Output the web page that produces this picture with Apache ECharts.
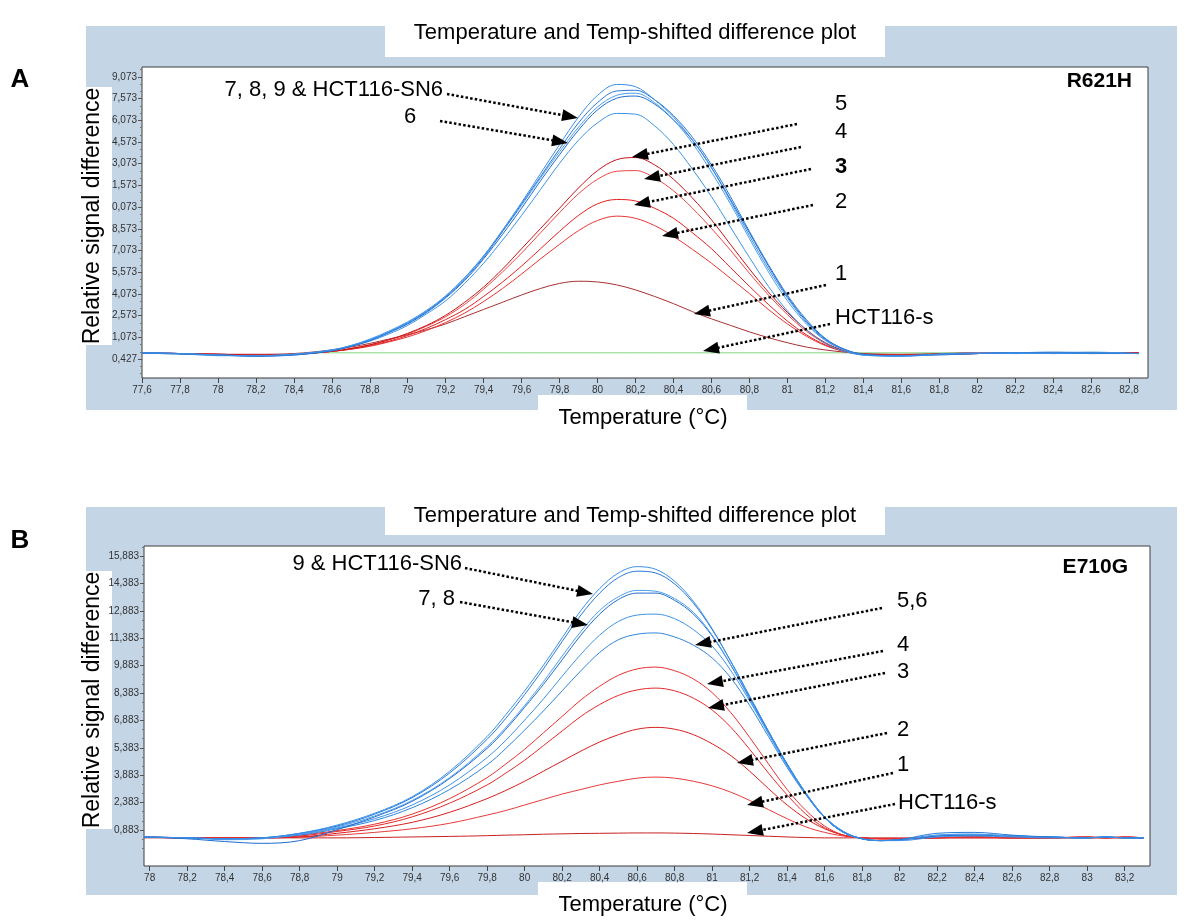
<!DOCTYPE html>
<html><head><meta charset="utf-8">
<script src="https://cdn.jsdelivr.net/npm/echarts@6/dist/echarts.min.js"></script>
<style>html,body{margin:0;padding:0;background:#fff}#c{width:1200px;height:924px}</style>
</head><body><div id="c"></div>
<script>
// ---------- Panel A (R621H) ----------
const TOP_T = [77.6, 77.8, 78.0, 78.2, 78.4, 78.6, 78.7, 78.8, 78.9, 79.0, 79.1, 79.2, 79.3, 79.4, 79.5, 79.6, 79.7, 79.8, 79.9, 80.0, 80.1, 80.2, 80.3, 80.4, 80.5, 80.6, 80.7, 80.8, 80.9, 81.0, 81.1, 81.2, 81.3, 81.4, 81.6, 81.8, 82.0, 82.2, 82.4, 82.6, 82.85];
const TOP_B1 = [0.0, -0.05, -0.15, -0.2, -0.1, 0.2, 0.5, 0.9, 1.45, 2.1, 2.9, 3.9, 5.2, 6.7, 8.5, 10.4, 12.4, 14.4, 16.3, 17.8, 18.55, 18.4, 17.5, 16.3, 14.7, 12.8, 10.5, 8.1, 5.8, 3.8, 2.1, 0.9, 0.2, -0.15, -0.2, -0.1, -0.05, 0.0, -0.05, 0.0, -0.05];
const TOP_B2 = [0.0, -0.05, -0.15, -0.25, -0.15, 0.15, 0.45, 0.85, 1.4, 2.05, 2.85, 3.85, 5.1, 6.6, 8.4, 10.3, 12.2, 14.1, 15.9, 17.3, 18.1, 18.15, 17.5, 16.4, 14.9, 13.0, 10.8, 8.4, 6.1, 4.0, 2.3, 1.0, 0.25, -0.1, -0.2, -0.1, -0.05, 0.0, 0.05, 0.0, -0.05];
const TOP_B3 = [0.0, -0.05, -0.2, -0.2, -0.1, 0.2, 0.5, 0.95, 1.5, 2.15, 2.95, 3.95, 5.2, 6.7, 8.4, 10.2, 12.1, 13.9, 15.6, 17.0, 17.8, 17.95, 17.3, 16.1, 14.5, 12.5, 10.3, 7.9, 5.6, 3.6, 2.0, 0.85, 0.2, -0.15, -0.25, -0.1, 0.0, -0.05, 0.0, 0.05, -0.05];
const TOP_B4 = [0.0, -0.1, -0.15, -0.2, -0.15, 0.15, 0.45, 0.85, 1.4, 2.0, 2.8, 3.8, 5.0, 6.5, 8.2, 10.0, 11.9, 13.7, 15.4, 16.8, 17.6, 17.75, 17.2, 16.1, 14.7, 12.8, 10.6, 8.3, 6.0, 3.9, 2.2, 0.95, 0.25, -0.1, -0.2, -0.15, -0.05, 0.0, -0.05, 0.0, -0.05];
const TOP_B5 = [0.0, -0.05, -0.15, -0.2, -0.1, 0.15, 0.45, 0.8, 1.3, 1.9, 2.7, 3.6, 4.8, 6.2, 7.8, 9.5, 11.3, 13.1, 14.7, 15.9, 16.55, 16.5, 15.7, 14.4, 12.7, 10.8, 8.7, 6.6, 4.6, 2.9, 1.6, 0.65, 0.1, -0.15, -0.2, -0.1, -0.05, 0.0, 0.0, -0.05, -0.05];
const TOP_R5 = [0.0, -0.05, -0.1, -0.15, -0.1, 0.1, 0.3, 0.55, 0.9, 1.35, 1.9, 2.6, 3.5, 4.55, 5.8, 7.2, 8.6, 10.0, 11.4, 12.6, 13.35, 13.5, 13.0, 12.0, 10.7, 9.2, 7.5, 5.8, 4.2, 2.8, 1.6, 0.7, 0.15, -0.1, -0.15, -0.1, -0.05, 0.0, -0.05, 0.0, 0.0];
const TOP_R4 = [0.0, -0.05, -0.1, -0.15, -0.1, 0.1, 0.3, 0.55, 0.9, 1.3, 1.85, 2.5, 3.35, 4.4, 5.6, 6.9, 8.3, 9.7, 11.0, 12.0, 12.55, 12.6, 12.1, 11.2, 10.0, 8.6, 7.1, 5.5, 4.0, 2.65, 1.5, 0.65, 0.12, -0.1, -0.15, -0.1, -0.05, 0.0, 0.0, -0.05, 0.0];
const TOP_R3 = [0.0, -0.05, -0.1, -0.15, -0.1, 0.1, 0.25, 0.5, 0.8, 1.2, 1.7, 2.3, 3.0, 3.9, 4.9, 6.0, 7.2, 8.4, 9.5, 10.3, 10.6, 10.5, 10.0, 9.3, 8.3, 7.2, 5.9, 4.6, 3.35, 2.2, 1.25, 0.55, 0.1, -0.1, -0.15, -0.1, 0.0, -0.05, 0.0, 0.0, -0.05];
const TOP_R2 = [0.0, -0.05, -0.1, -0.15, -0.1, 0.1, 0.25, 0.45, 0.75, 1.1, 1.55, 2.1, 2.75, 3.55, 4.45, 5.45, 6.5, 7.5, 8.45, 9.15, 9.45, 9.3, 8.8, 8.05, 7.15, 6.2, 5.15, 4.1, 3.0, 2.0, 1.15, 0.5, 0.1, -0.1, -0.15, -0.1, -0.05, 0.0, 0.0, -0.05, 0.0];
const TOP_R1 = [0.0, -0.05, -0.1, -0.1, -0.05, 0.2, 0.4, 0.65, 0.95, 1.25, 1.6, 2.0, 2.5, 3.0, 3.5, 4.0, 4.45, 4.8, 4.95, 4.9, 4.7, 4.35, 3.9, 3.4, 2.85, 2.35, 1.9, 1.45, 1.05, 0.7, 0.4, 0.2, 0.05, -0.05, -0.1, -0.05, 0.0, 0.0, 0.0, 0.0, 0.0];
const TOP_GREEN_T = [78.5, 82.85];
const TOP_GREEN_V = [0.0, 0.0];
const TOP_X_LABELS = ['77,6','77,8','78','78,2','78,4','78,6','78,8','79','79,2','79,4','79,6','79,8','80','80,2','80,4','80,6','80,8','81','81,2','81,4','81,6','81,8','82','82,2','82,4','82,6','82,8'];
const TOP_Y_TICKS = [-0.427, 1.073, 2.573, 4.073, 5.573, 7.073, 8.573, 10.073, 11.573, 13.073, 14.573, 16.073, 17.573, 19.073];
const TOP_Y_LABELS = ['0,427','1,073','2,573','4,073','5,573','7,073','8,573','0,073','1,573','3,073','4,573','6,073','7,573','9,073'];

// ---------- Panel B (E710G) ----------
const BOT_T = [77.97, 78.2, 78.4, 78.6, 78.8, 79.0, 79.2, 79.4, 79.6, 79.8, 79.9, 80.0, 80.1, 80.2, 80.3, 80.4, 80.5, 80.6, 80.7, 80.8, 80.9, 81.0, 81.1, 81.2, 81.3, 81.4, 81.5, 81.6, 81.7, 81.8, 81.9, 82.0, 82.2, 82.4, 82.6, 82.8, 83.0, 83.1, 83.2, 83.3];
const BOT_B1 = [0.5, 0.45, 0.4, 0.45, 0.7, 1.15, 1.8, 2.7, 4.1, 6.0, 7.2, 8.5, 9.9, 11.4, 12.9, 14.1, 14.95, 15.3, 15.15, 14.5, 13.4, 11.9, 10.1, 8.2, 6.3, 4.5, 2.9, 1.6, 0.8, 0.4, 0.3, 0.3, 0.5, 0.55, 0.5, 0.45, 0.45, 0.5, 0.45, 0.45];
const BOT_B2 = [0.5, 0.45, 0.4, 0.45, 0.7, 1.1, 1.75, 2.65, 4.0, 5.85, 7.0, 8.3, 9.7, 11.2, 12.65, 13.85, 14.7, 15.05, 14.95, 14.35, 13.3, 11.85, 10.1, 8.2, 6.3, 4.5, 2.9, 1.6, 0.8, 0.4, 0.3, 0.35, 0.7, 0.75, 0.6, 0.5, 0.45, 0.5, 0.45, 0.45];
const BOT_B3 = [0.5, 0.45, 0.35, 0.4, 0.65, 1.05, 1.65, 2.5, 3.75, 5.45, 6.5, 7.7, 9.0, 10.4, 11.75, 12.9, 13.65, 14.0, 13.95, 13.55, 12.8, 11.55, 9.9, 8.05, 6.2, 4.4, 2.85, 1.55, 0.75, 0.4, 0.3, 0.35, 0.6, 0.65, 0.55, 0.5, 0.45, 0.5, 0.45, 0.45];
const BOT_B4 = [0.5, 0.4, 0.25, 0.15, 0.3, 0.9, 1.6, 2.45, 3.7, 5.35, 6.4, 7.6, 8.85, 10.2, 11.55, 12.7, 13.5, 13.85, 13.85, 13.45, 12.7, 11.5, 9.9, 8.1, 6.25, 4.45, 2.85, 1.55, 0.75, 0.4, 0.3, 0.35, 0.55, 0.6, 0.55, 0.5, 0.45, 0.5, 0.45, 0.45];
const BOT_B5 = [0.5, 0.45, 0.4, 0.45, 0.65, 1.0, 1.5, 2.25, 3.35, 4.85, 5.8, 6.9, 8.05, 9.3, 10.5, 11.55, 12.3, 12.65, 12.7, 12.45, 11.85, 10.95, 9.6, 7.95, 6.15, 4.4, 2.85, 1.55, 0.75, 0.4, 0.3, 0.35, 0.6, 0.65, 0.55, 0.5, 0.45, 0.5, 0.45, 0.45];
const BOT_B6 = [0.5, 0.45, 0.4, 0.45, 0.6, 0.95, 1.4, 2.1, 3.1, 4.45, 5.35, 6.35, 7.4, 8.5, 9.6, 10.6, 11.3, 11.6, 11.67, 11.45, 11.0, 10.3, 9.2, 7.7, 6.0, 4.3, 2.8, 1.55, 0.75, 0.4, 0.3, 0.35, 0.55, 0.6, 0.55, 0.5, 0.45, 0.5, 0.45, 0.45];
const BOT_R4 = [0.5, 0.45, 0.45, 0.45, 0.6, 0.85, 1.2, 1.75, 2.6, 3.75, 4.5, 5.3, 6.2, 7.1, 8.0, 8.75, 9.35, 9.7, 9.8, 9.6, 9.15, 8.4, 7.3, 5.95, 4.5, 3.1, 1.95, 1.1, 0.6, 0.45, 0.4, 0.4, 0.45, 0.5, 0.45, 0.45, 0.5, 0.45, 0.5, 0.45];
const BOT_R3 = [0.5, 0.45, 0.45, 0.45, 0.55, 0.8, 1.1, 1.6, 2.35, 3.35, 4.0, 4.7, 5.5, 6.3, 7.1, 7.75, 8.25, 8.55, 8.65, 8.5, 8.1, 7.45, 6.5, 5.3, 4.0, 2.8, 1.75, 1.0, 0.6, 0.45, 0.4, 0.4, 0.45, 0.5, 0.45, 0.45, 0.5, 0.45, 0.5, 0.45];
const BOT_R2 = [0.5, 0.45, 0.45, 0.45, 0.5, 0.7, 0.95, 1.3, 1.85, 2.6, 3.05, 3.55, 4.1, 4.65, 5.2, 5.7, 6.1, 6.4, 6.5, 6.4, 6.1, 5.6, 4.95, 4.1, 3.15, 2.25, 1.5, 0.95, 0.6, 0.45, 0.4, 0.4, 0.45, 0.5, 0.45, 0.45, 0.5, 0.45, 0.5, 0.45];
const BOT_R1 = [0.5, 0.45, 0.45, 0.45, 0.5, 0.6, 0.75, 0.95, 1.25, 1.7, 1.95, 2.25, 2.55, 2.85, 3.1, 3.35, 3.55, 3.72, 3.78, 3.72, 3.55, 3.3, 2.95, 2.5, 2.0, 1.5, 1.05, 0.75, 0.55, 0.45, 0.4, 0.4, 0.45, 0.45, 0.45, 0.45, 0.45, 0.45, 0.45, 0.45];
const BOT_HCT = [0.45, 0.45, 0.45, 0.45, 0.45, 0.45, 0.47, 0.5, 0.53, 0.57, 0.6, 0.62, 0.65, 0.67, 0.69, 0.7, 0.71, 0.72, 0.72, 0.71, 0.69, 0.66, 0.62, 0.58, 0.54, 0.5, 0.47, 0.45, 0.45, 0.45, 0.45, 0.45, 0.45, 0.45, 0.45, 0.45, 0.45, 0.45, 0.45, 0.45];
const BOT_X_LABELS = ['78','78,2','78,4','78,6','78,8','79','79,2','79,4','79,6','79,8','80','80,2','80,4','80,6','80,8','81','81,2','81,4','81,6','81,8','82','82,2','82,4','82,6','82,8','83','83,2'];
const BOT_Y_TICKS = [0.883, 2.383, 3.883, 5.383, 6.883, 8.383, 9.883, 11.383, 12.883, 14.383, 15.883];
const BOT_Y_LABELS = ['0,883','2,383','3,883','5,383','6,883','8,383','9,883','11,383','12,883','14,383','15,883'];

// ---------- annotations ----------
const TOP_NOTES = [
  ['7, 8, 9 & HCT116-SN6', 443, 90, 'right', false],
  ['6', 410, 117, 'center', false],
  ['5', 835, 104, 'left', false],
  ['4', 835, 132, 'left', false],
  ['3', 835, 167, 'left', true],
  ['2', 835, 202, 'left', false],
  ['1', 835, 274, 'left', false],
  ['HCT116-s', 835, 318, 'left', false]
];
const TOP_ARROWS = [[447,94,578,118],[440,121,568,143],[797,124,632,157],[801,147,644,179],[811,169,634,205],[813,205,662,236],[826,285,694,314],[830,324,703,351]];
const BOT_NOTES = [
  ['9 & HCT116-SN6', 462, 564, 'right', false],
  ['7, 8', 455, 599, 'right', false],
  ['5,6', 897, 601, 'left', false],
  ['4', 897, 645, 'left', false],
  ['3', 897, 672, 'left', false],
  ['2', 897, 730, 'left', false],
  ['1', 897, 765, 'left', false],
  ['HCT116-s', 898, 803, 'left', false]
];
const BOT_ARROWS = [[465,568,593,594],[460,602,588,625],[882,608,695,645],[883,651,707,684],[885,673,708,708],[887,733,737,763],[893,773,747,805],[895,804,747,833]];

const FONT = "'Liberation Sans', Arial, Helvetica, sans-serif";
const FRAME = '#c4d5e6';

function pairs(xs, ys){ return xs.map((x,i)=>[x, ys[i]]); }
function lbl(ticks, labels){ return v => { const i = ticks.findIndex(t => Math.abs(t - v) < 1e-6); return i >= 0 ? labels[i] : ''; }; }
function minors(ticks, lo, hi){ const m=[]; ticks.forEach(t=>{ [-1,-0.5,0.5,1].forEach(d=>{const v=+(t+d).toFixed(3); if(v>lo && v<hi && !m.some(q=>Math.abs(q-v)<1e-6)) m.push(v);}); }); return m; }
function parseLbl(a){ return a.map(s=>parseFloat(s.replace(',','.'))); }

function xAxisCfg(gi, min, max, labels){
  const vals = parseLbl(labels);
  return { gridIndex: gi, type:'value', min, max, position:'bottom',
    axisLine:{show:false, onZero:false}, splitLine:{show:false},
    axisTick:{show:true, inside:false, customValues: vals, length:5, lineStyle:{color:'#444', width:1}},
    axisLabel:{customValues: vals, formatter: lbl(vals, labels), fontSize:10, color:'#333', margin:7, fontFamily: FONT} };
}
function yAxisCfg(gi, min, max, ticks, labels){
  return [{ gridIndex: gi, type:'value', min, max, position:'left',
    axisLine:{show:false, onZero:false}, splitLine:{show:false},
    axisTick:{show:true, customValues: ticks, length:4, lineStyle:{color:'#555', width:1}},
    axisLabel:{customValues: ticks, formatter: lbl(ticks, labels), fontSize:10, color:'#333', margin:5, fontFamily: FONT} },
   { gridIndex: gi, type:'value', min, max, position:'left', offset:0,
    axisLine:{show:false, onZero:false}, splitLine:{show:false},
    axisTick:{show:true, customValues: minors(ticks, min, max), length:2, lineStyle:{color:'#777', width:1}},
    axisLabel:{show:false} }];
}
function line(name, xs, ys, color, xi, yi, z){
  return { name, type:'line', xAxisIndex:xi, yAxisIndex:yi, data: pairs(xs, ys), showSymbol:false, symbol:'none',
    smooth:0.35, silent:true, animation:false, z: z||2, lineStyle:{width:1, color} };
}
function arrowData(arr){
  return arr.map(a => { const dx=a[2]-a[0], dy=a[3]-a[1], L=Math.hypot(dx,dy), k=(L-8)/L;
    return [{x:a[0], y:a[1]}, {x:a[0]+dx*k, y:a[1]+dy*k}]; });
}
function markArrows(arr){
  return { silent:true, animation:false, symbol:['none','triangle'], symbolSize:[12,16], label:{show:false},
    lineStyle:{color:'#000', width:2.5, type:[2.5,2.2], opacity:1}, emphasis:{disabled:true}, data: arrowData(arr) };
}
function text(t, x, y, font, align, rot){
  return { type:'text', x, y, z:100, rotation: rot||0,
    style:{ text:t, font, fill:'#000', textAlign: align||'left', textVerticalAlign:'middle', align: align||'left', verticalAlign:'middle' } };
}
function rect(x,y,w,h,fill,z){ return { type:'rect', z, shape:{x,y,width:w,height:h}, style:{fill}, silent:true }; }

const g = [];
// frames
g.push(rect(86,26,1091,384,FRAME,-20), rect(385,10,500,47,'#fff',-19), rect(538,395,209,40,'#fff',-19), rect(78,87,34,258,'#fff',-19));
g.push(rect(86,507,1091,388,FRAME,-20), rect(385,495,500,40,'#fff',-19), rect(538,882,209,30,'#fff',-19), rect(78,571,34,258,'#fff',-19));
// titles
const T22 = '22px ' + FONT;
g.push(text('Temperature and Temp-shifted difference plot', 635, 33, T22, 'center'));
g.push(text('Temperature and Temp-shifted difference plot', 635, 516, T22, 'center'));
g.push(text('Temperature (°C)', 643, 418, T22, 'center'));
g.push(text('Temperature (°C)', 643, 905, T22, 'center'));
g.push(text('Relative signal difference', 93, 216, '23px ' + FONT, 'center', Math.PI/2));
g.push(text('Relative signal difference', 93, 700, '23px ' + FONT, 'center', Math.PI/2));
g.push(text('A', 20, 80, 'bold 26px ' + FONT, 'center'));
g.push(text('B', 20, 541, 'bold 26px ' + FONT, 'center'));
g.push(text('R621H', 1132, 81, 'bold 21px ' + FONT, 'right'));
g.push(text('E710G', 1128, 567, 'bold 21px ' + FONT, 'right'));
TOP_NOTES.concat(BOT_NOTES).forEach(n => g.push(text(n[0], n[1], n[2], (n[4]?'bold ':'') + T22, n[3])));

const BLUE = ['#3a8fe8','#2878d6','#4a9ef0','#1f6ccc','#3d93e6','#2f84de'];
const series = [
  Object.assign(line('HCT116-s A', TOP_GREEN_T, TOP_GREEN_V, '#7fd67f', 0, 0, 1), {markLine: markArrows(TOP_ARROWS)}),
  line('1 A', TOP_T, TOP_R1, '#a83030', 0, 0),
  line('2 A', TOP_T, TOP_R2, '#e83434', 0, 0),
  line('3 A', TOP_T, TOP_R3, '#e52020', 0, 0),
  line('4 A', TOP_T, TOP_R4, '#f04545', 0, 0),
  line('5 A', TOP_T, TOP_R5, '#c81218', 0, 0),
  line('6 A', TOP_T, TOP_B5, BLUE[4], 0, 0, 3),
  line('7 A', TOP_T, TOP_B4, BLUE[3], 0, 0, 3),
  line('8 A', TOP_T, TOP_B3, BLUE[2], 0, 0, 3),
  line('9 A', TOP_T, TOP_B2, BLUE[1], 0, 0, 3),
  line('SN6 A', TOP_T, TOP_B1, BLUE[0], 0, 0, 3),
  Object.assign(line('HCT116-s B', BOT_T, BOT_HCT, '#c82020', 1, 2), {markLine: markArrows(BOT_ARROWS)}),
  line('1 B', BOT_T, BOT_R1, '#e83a3a', 1, 2),
  line('2 B', BOT_T, BOT_R2, '#d81e1e', 1, 2),
  line('3 B', BOT_T, BOT_R3, '#e42828', 1, 2),
  line('4 B', BOT_T, BOT_R4, '#e83030', 1, 2),
  line('5 B', BOT_T, BOT_B6, BLUE[5], 1, 2, 3),
  line('6 B', BOT_T, BOT_B5, BLUE[4], 1, 2, 3),
  line('7 B', BOT_T, BOT_B4, BLUE[3], 1, 2, 3),
  line('8 B', BOT_T, BOT_B3, BLUE[2], 1, 2, 3),
  line('9 B', BOT_T, BOT_B2, BLUE[1], 1, 2, 3),
  line('SN6 B', BOT_T, BOT_B1, BLUE[0], 1, 2, 3)
];

const chart = echarts.init(document.getElementById('c'), null, {renderer:'canvas'});
chart.setOption({
  animation:false,
  backgroundColor:'#fff',
  textStyle:{fontFamily: FONT},
  grid:[
    {left:142, top:67, width:1006, height:311, show:true, backgroundColor:'#fff', borderColor:'#3c3c3c', borderWidth:1, containLabel:false, outerBoundsMode:'none'},
    {left:144, top:546, width:1006, height:320, show:true, backgroundColor:'#fff', borderColor:'#3c3c3c', borderWidth:1, containLabel:false, outerBoundsMode:'none'}
  ],
  xAxis:[ xAxisCfg(0, 77.6, 82.9, TOP_X_LABELS), xAxisCfg(1, 77.97, 83.335, BOT_X_LABELS) ],
  yAxis: yAxisCfg(0, -1.74, 19.76, TOP_Y_TICKS, TOP_Y_LABELS).concat(yAxisCfg(1, -1.09, 16.43, BOT_Y_TICKS, BOT_Y_LABELS)),
  graphic:{elements:g},
  series
});
</script></body></html>
